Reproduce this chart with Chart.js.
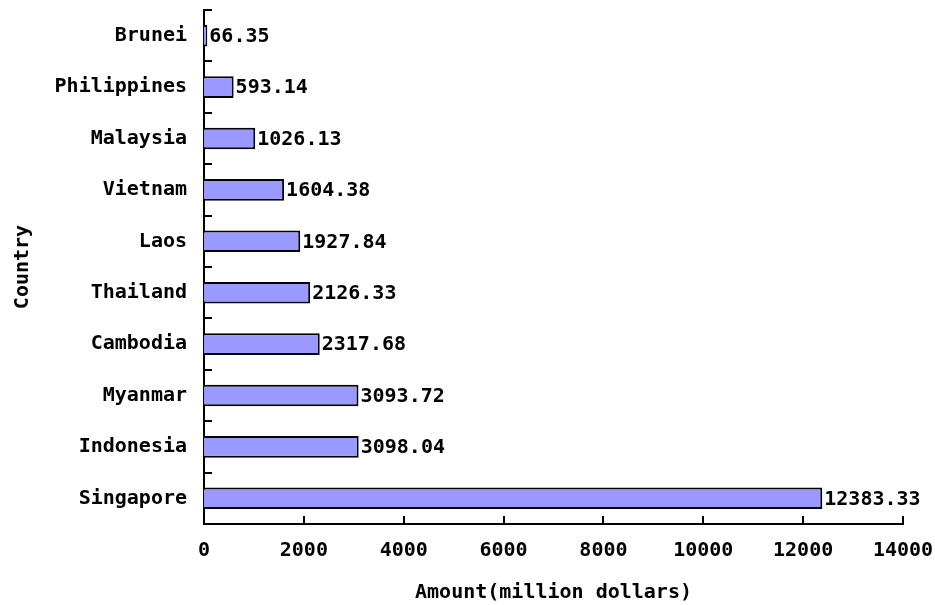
<!DOCTYPE html>
<html>
<head>
<meta charset="utf-8">
<script src="https://cdn.jsdelivr.net/npm/chart.js@4"></script>
<style>
  html, body { margin: 0; padding: 0; background: #fff; }
</style>
</head>
<body>
<canvas id="chart" width="935" height="605"></canvas>
<script>
const countries = ['Brunei', 'Philippines', 'Malaysia', 'Vietnam', 'Laos', 'Thailand', 'Cambodia', 'Myanmar', 'Indonesia', 'Singapore'];
const amounts = [66.35, 593.14, 1026.13, 1604.38, 1927.84, 2126.33, 2317.68, 3093.72, 3098.04, 12383.33];
const xTicks = [0, 2000, 4000, 6000, 8000, 10000, 12000, 14000];

const FONT = { family: '"DejaVu Sans Mono", "Liberation Mono", monospace', size: 20, weight: 'bold' };

// short tick marks drawn inside the plot, like the original
const tickMarks = {
  id: 'tickMarks',
  afterDatasetsDraw(chart) {
    const { ctx, scales: { x, y } } = chart;
    ctx.save();
    ctx.strokeStyle = '#000';
    ctx.lineWidth = 2;
    const step = y.getPixelForValue(1) - y.getPixelForValue(0);
    for (let i = 0; i <= countries.length; i++) {
      const py = Math.round(y.getPixelForValue(i) - step / 2);
      ctx.beginPath();
      ctx.moveTo(x.left, py);
      ctx.lineTo(x.left + 8, py);
      ctx.stroke();
    }
    x.ticks.forEach(t => {
      const px = Math.round(x.getPixelForValue(t.value));
      ctx.beginPath();
      ctx.moveTo(px, y.bottom);
      ctx.lineTo(px, y.bottom - 8);
      ctx.stroke();
    });
    ctx.restore();
  }
};

const valueLabels = {
  id: 'valueLabels',
  afterDatasetsDraw(chart) {
    const { ctx } = chart;
    const meta = chart.getDatasetMeta(0);
    ctx.save();
    ctx.fillStyle = '#000';
    ctx.font = `${FONT.weight} ${FONT.size}px ${FONT.family}`;
    ctx.textAlign = 'left';
    ctx.textBaseline = 'middle';
    meta.data.forEach((bar, i) => {
      ctx.fillText(amounts[i].toFixed(2), bar.x + 2, bar.y + 1);
    });
    ctx.restore();
  }
};

new Chart(document.getElementById('chart'), {
  type: 'bar',
  data: {
    labels: countries,
    datasets: [{
      data: amounts,
      backgroundColor: '#9999ff',
      borderColor: '#000',
      borderWidth: 2,
      barPercentage: 0.42,
      categoryPercentage: 1
    }]
  },
  options: {
    indexAxis: 'y',
    responsive: false,
    animation: false,
    layout: { padding: { left: 0, top: 10, right: 32, bottom: 0 } },
    plugins: {
      legend: { display: false },
      tooltip: { enabled: false }
    },
    scales: {
      x: {
        min: 0,
        max: 14000,
        afterFit(scale) { scale.height = 81; scale.paddingLeft = 0; scale.paddingRight = 0; },
        afterBuildTicks(scale) { scale.ticks = xTicks.map(v => ({ value: v })); },
        grid: { display: false, drawTicks: false },
        border: { display: true, color: '#000', width: 2 },
        ticks: { color: '#000', font: FONT, padding: 15, maxRotation: 0, callback: v => String(v) },
        title: { display: true, text: 'Amount(million dollars)', color: '#000', font: FONT, padding: { top: 0, bottom: 0 } }
      },
      y: {
        afterFit(scale) { scale.width = 204; scale.paddingTop = 0; scale.paddingBottom = 0; },
        grid: { display: false, drawTicks: false },
        border: { display: true, color: '#000', width: 2 },
        ticks: { color: '#000', font: FONT, padding: 17 },
        title: { display: true, text: 'Country', color: '#000', font: FONT, padding: { top: 11, bottom: 0 } }
      }
    }
  },
  plugins: [tickMarks, valueLabels]
});
</script>
</body>
</html>
